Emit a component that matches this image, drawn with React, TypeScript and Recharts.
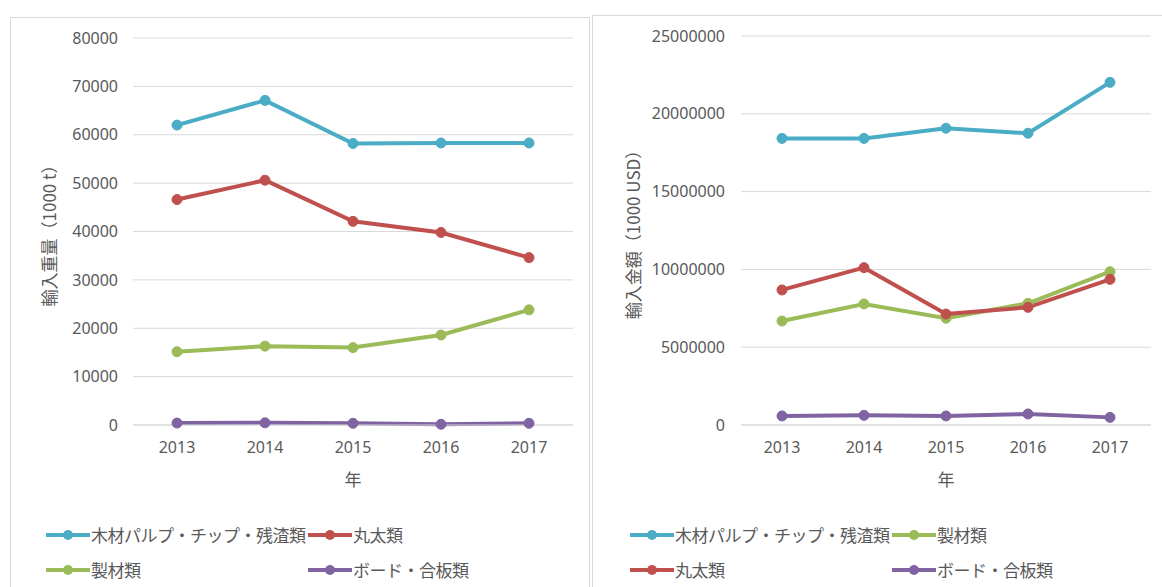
import React from "react";
import { LineChart, Line, XAxis, YAxis, CartesianGrid, Legend, Label } from "recharts";

// years on the x axis
const years = ["2013", "2014", "2015", "2016", "2017"];

// import weight (1000 t)
const pulpWeight = [62000, 67100, 58200, 58300, 58300];
const logWeight = [46600, 50600, 42100, 39800, 34600];
const lumberWeight = [15150, 16300, 16000, 18600, 23800];
const boardWeight = [400, 450, 350, 150, 350];
const weightTicks = [0, 10000, 20000, 30000, 40000, 50000, 60000, 70000, 80000];

// import value (1000 USD)
const pulpValue = [18420000, 18420000, 19070000, 18750000, 22020000];
const logValue = [8680000, 10110000, 7130000, 7560000, 9360000];
const lumberValue = [6680000, 7780000, 6860000, 7820000, 9850000];
const boardValue = [580000, 620000, 580000, 710000, 490000];
const valueTicks = [0, 5000000, 10000000, 15000000, 20000000, 25000000];

const names = {
  pulp: "木材パルプ・チップ・残渣類",
  log: "丸太類",
  lumber: "製材類",
  board: "ボード・合板類",
};

const colors = {
  pulp: "#4bacc6",
  log: "#c0504d",
  lumber: "#9bbb59",
  board: "#8064a2",
};

type Key = keyof typeof names;

const weightOrder: Key[] = ["pulp", "log", "lumber", "board"];
const valueOrder: Key[] = ["pulp", "lumber", "log", "board"];

const weightData = years.map((year, i) => ({
  year,
  pulp: pulpWeight[i],
  log: logWeight[i],
  lumber: lumberWeight[i],
  board: boardWeight[i],
}));

const valueData = years.map((year, i) => ({
  year,
  pulp: pulpValue[i],
  log: logValue[i],
  lumber: lumberValue[i],
  board: boardValue[i],
}));

const FONT = "'Noto Sans', 'Noto Sans CJK JP', sans-serif";
const CJK = "'Noto Sans CJK JP', 'Noto Sans', sans-serif";
const TEXT = "#595959";
const GRID = "#d9d9d9";

function YTitle({ viewBox, x, text }: any) {
  const cy = viewBox.y + viewBox.height / 2;
  return (
    <text
      x={x}
      y={cy}
      transform={`rotate(-90, ${x}, ${cy})`}
      textAnchor="middle"
      dominantBaseline="central"
      fill={TEXT}
      fontSize={17}
      fontFamily={CJK}
    >
      {text}
    </text>
  );
}

function XTitle({ viewBox }: any) {
  return (
    <text
      x={viewBox.x + viewBox.width / 2}
      y={viewBox.y + 53}
      textAnchor="middle"
      dominantBaseline="central"
      fill={TEXT}
      fontSize={17}
      fontFamily={CJK}
    >
      年
    </text>
  );
}

function LegendGrid({ payload, left, order }: any) {
  const items = order
    .map((k: Key) => (payload || []).find((e: any) => e.dataKey === k))
    .filter(Boolean);
  return (
    <div
      style={{
        display: "grid",
        gridTemplateColumns: "262px auto",
        gridAutoRows: "35px",
        paddingLeft: left,
        height: 70,
        boxSizing: "border-box",
      }}
    >
      {items.map((entry: any) => (
        <div key={entry.value} style={{ display: "flex", alignItems: "center", whiteSpace: "nowrap" }}>
          <svg width={44} height={14} style={{ marginRight: 1 }}>
            <line x1={0} y1={7} x2={44} y2={7} stroke={entry.color} strokeWidth={4} />
            <circle cx={22} cy={7} r={5} fill={entry.color} />
          </svg>
          <span style={{ fontFamily: CJK, fontSize: 17, color: TEXT, letterSpacing: -0.5 }}>{entry.value}</span>
        </div>
      ))}
    </div>
  );
}

function series(keys: Key[]) {
  return keys.map((k) => (
    <Line
      key={k}
      type="linear"
      dataKey={k}
      name={names[k]}
      stroke={colors[k]}
      strokeWidth={4}
      dot={{ r: 5, fill: colors[k], stroke: colors[k], strokeWidth: 1 }}
      isAnimationActive={false}
    />
  ));
}

export default function App() {
  const tick = { fill: TEXT, fontSize: 16, fontFamily: FONT };
  return (
    <div style={{ position: "fixed", left: 0, top: 0, width: 1162, height: 587, background: "#fff", overflow: "hidden" }}>
      <div style={{ position: "absolute", left: 10, top: 17, width: 578, height: 600, border: `1px solid ${GRID}` }} />
      <div style={{ position: "absolute", left: 592, top: 15, width: 600, height: 600, border: `1px solid ${GRID}` }} />

      <div style={{ position: "absolute", left: 10, top: 17 }}>
        <LineChart width={580} height={570} data={weightData} margin={{ top: 21, right: 17, bottom: 0, left: 0 }}>
          <CartesianGrid vertical={false} stroke={GRID} />
          <XAxis
            dataKey="year"
            height={92}
            padding={{ left: 44, right: 44 }}
            tickLine={false}
            axisLine={{ stroke: GRID }}
            tick={tick}
            tickMargin={11}
          >
            <Label content={(p: any) => <XTitle {...p} />} />
          </XAxis>
          <YAxis
            width={123}
            domain={[0, 80000]}
            ticks={weightTicks}
            interval={0}
            tickLine={false}
            axisLine={false}
            tick={tick}
            tickMargin={9}
          >
            <Label content={(p: any) => <YTitle {...p} x={38} text="輸入重量（1000 t）" />} />
          </YAxis>
          <Legend verticalAlign="bottom" content={(p: any) => <LegendGrid {...p} left={36} order={weightOrder} />} />
          {series(weightOrder)}
        </LineChart>
      </div>

      <div style={{ position: "absolute", left: 592, top: 15 }}>
        <LineChart width={570} height={572} data={valueData} margin={{ top: 21, right: 11, bottom: 0, left: 0 }}>
          <CartesianGrid vertical={false} stroke={GRID} />
          <XAxis
            dataKey="year"
            height={92}
            padding={{ left: 41, right: 41 }}
            tickLine={false}
            axisLine={{ stroke: GRID }}
            tick={tick}
            tickMargin={11}
          >
            <Label content={(p: any) => <XTitle {...p} />} />
          </XAxis>
          <YAxis
            width={149}
            domain={[0, 25000000]}
            ticks={valueTicks}
            interval={0}
            tickLine={false}
            axisLine={false}
            tick={tick}
            tickMargin={10}
          >
            <Label content={(p: any) => <YTitle {...p} x={40} text="輸入金額（1000 USD）" />} />
          </YAxis>
          <Legend verticalAlign="bottom" content={(p: any) => <LegendGrid {...p} left={38} order={valueOrder} />} />
          {series(valueOrder)}
        </LineChart>
      </div>
    </div>
  );
}
